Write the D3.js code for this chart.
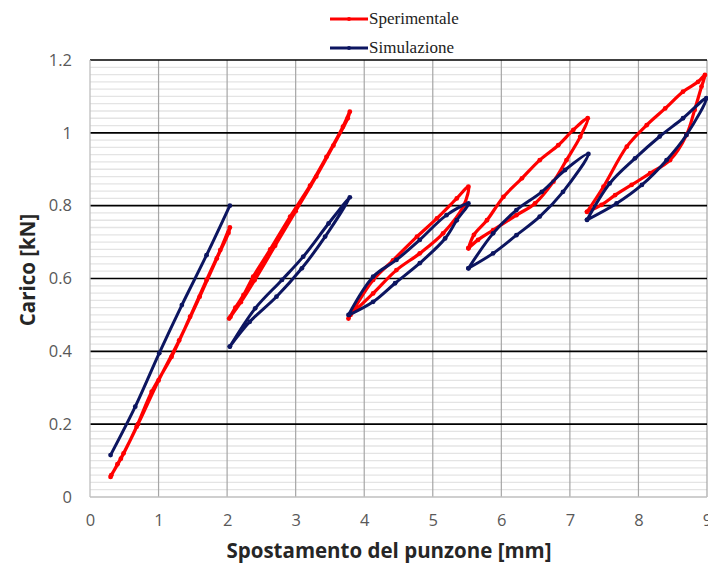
<!DOCTYPE html>
<html>
<head>
<meta charset="utf-8">
<script src="https://cdn.jsdelivr.net/npm/d3@7"></script>
<style>
  html, body { margin: 0; padding: 0; background: #fff; }
  svg { display: block; }
</style>
</head>
<body>
<svg id="chart" width="708" height="565"></svg>
<script>
// ---- Data (null separates loading/unloading cycles) ----
const sperimentaleX = [
  0.30,0.40,0.49,0.68,0.90,1.19,1.46,1.70,1.90,2.04, 2.02,1.85,1.60,1.30,1.00,0.70,0.45,0.31, null,
  2.03,2.12,2.24,2.38,2.63,2.92,3.21,3.45,3.69,3.79, 3.76,3.55,3.30,3.00,2.70,2.40,2.20,2.05, null,
  3.77,4.13,4.42,4.77,5.06,5.35,5.52, 5.45,5.15,4.81,4.47,4.13,3.80, null,
  5.52,5.60,5.79,6.03,6.30,6.56,6.83,7.05,7.26, 7.15,6.95,6.76,6.49,6.22,5.88,5.66,5.52, null,
  7.25,7.49,7.83,8.12,8.39,8.65,8.87,8.97, 8.92,8.82,8.70,8.46,8.17,7.90,7.66,7.46,7.25
];
const sperimentaleY = [
  0.055,0.090,0.120,0.193,0.289,0.385,0.495,0.596,0.678,0.740, 0.725,0.655,0.550,0.430,0.320,0.200,0.105,0.060, null,
  0.490,0.520,0.555,0.605,0.680,0.770,0.855,0.934,1.017,1.058, 1.040,0.965,0.880,0.785,0.690,0.595,0.535,0.495, null,
  0.490,0.596,0.650,0.715,0.765,0.820,0.852, 0.800,0.724,0.669,0.623,0.559,0.500, null,
  0.683,0.720,0.760,0.824,0.875,0.925,0.966,1.008,1.040, 0.989,0.925,0.866,0.806,0.774,0.733,0.706,0.683, null,
  0.783,0.852,0.962,1.021,1.067,1.113,1.140,1.159, 1.127,1.063,0.994,0.925,0.889,0.857,0.829,0.802,0.783
];
const simulazioneX = [
  0.30,0.66,1.01,1.34,1.70,2.04, null,
  2.04,2.33,2.72,3.09,3.43,3.79, 3.48,3.11,2.80,2.41,2.04, null,
  3.77,4.13,4.47,4.81,5.20,5.52, 5.35,5.18,4.81,4.45,4.13,3.78, null,
  5.52,5.88,6.22,6.59,6.93,7.27, 6.90,6.56,6.22,5.88,5.52, null,
  7.25,7.58,7.95,8.31,8.65,8.99, 8.70,8.41,8.05,7.68,7.25
];
const simulazioneY = [
  0.115,0.248,0.395,0.527,0.664,0.800, null,
  0.413,0.481,0.550,0.628,0.715,0.823, 0.751,0.660,0.596,0.518,0.413, null,
  0.500,0.605,0.651,0.706,0.774,0.806, 0.760,0.710,0.642,0.587,0.536,0.500, null,
  0.628,0.724,0.788,0.838,0.898,0.942, 0.838,0.770,0.719,0.669,0.628, null,
  0.761,0.861,0.930,0.990,1.040,1.095, 0.994,0.925,0.857,0.806,0.761
];
const xTicks = [0,1,2,3,4,5,6,7,8,9];
const yTicks = [0,0.2,0.4,0.6,0.8,1,1.2];
const seriesNames = ["Sperimentale", "Simulazione"];
const seriesColors = ["#ff0000", "#0c1560"];

// ---- Layout ----
const svg = d3.select("#chart");
const pLeft = 90, pRight = 707, pTop = 60, pBottom = 497;
const x = d3.scaleLinear().domain([0, 9]).range([pLeft, pRight]);
const y = d3.scaleLinear().domain([0, 1.2]).range([pBottom, pTop]);

// minor horizontal gridlines
const minor = d3.range(0, 1.2001, 0.02).filter(v => Math.abs(Math.round(v / 0.2) * 0.2 - v) > 1e-6);
svg.append("g").selectAll("line").data(minor).join("line")
  .attr("x1", pLeft).attr("x2", pRight)
  .attr("y1", d => y(d)).attr("y2", d => y(d))
  .attr("stroke", "#e4e4e4").attr("stroke-width", 1.3);

// vertical gridlines
svg.append("g").selectAll("line").data(xTicks.filter(d => d > 0)).join("line")
  .attr("x1", d => x(d)).attr("x2", d => x(d))
  .attr("y1", pTop).attr("y2", pBottom)
  .attr("stroke", "#a6a6a6").attr("stroke-width", 1.2);

// major horizontal gridlines
svg.append("g").selectAll("line").data(yTicks.filter(d => d > 0)).join("line")
  .attr("x1", pLeft).attr("x2", pRight)
  .attr("y1", d => y(d)).attr("y2", d => y(d))
  .attr("stroke", "#000").attr("stroke-width", 1.6);

// axes lines (gray)
svg.append("line").attr("x1", pLeft).attr("x2", pRight).attr("y1", pBottom).attr("y2", pBottom)
  .attr("stroke", "#bfbfbf").attr("stroke-width", 1.3);
svg.append("line").attr("x1", pLeft).attr("x2", pLeft).attr("y1", pTop).attr("y2", pBottom)
  .attr("stroke", "#bfbfbf").attr("stroke-width", 1.3);

// tick labels via axes
const xAxis = svg.append("g").attr("transform", `translate(0,${pBottom})`)
  .call(d3.axisBottom(x).tickValues(xTicks).tickSize(0).tickPadding(17).tickFormat(d3.format("d")));
const yAxis = svg.append("g").attr("transform", `translate(${pLeft},0)`)
  .call(d3.axisLeft(y).tickValues(yTicks).tickSize(0).tickPadding(18).tickFormat(d => d === 0 || d === 1 ? String(d) : d3.format(".1f")(d)));
[xAxis, yAxis].forEach(a => {
  a.select(".domain").remove();
  a.selectAll("text").attr("font-family", "'Open Sans', sans-serif").attr("font-size", 16.5).attr("fill", "#595959");
});

// series
const series = [
  {name: seriesNames[0], xs: sperimentaleX, ys: sperimentaleY, color: seriesColors[0], w: 3.2},
  {name: seriesNames[1], xs: simulazioneX, ys: simulazioneY, color: seriesColors[1], w: 3}
];
const line = d3.line()
  .defined(d => d[0] !== null && d[1] !== null)
  .x(d => x(d[0])).y(d => y(d[1]))
  .curve(d3.curveCatmullRom.alpha(0.5));

const plot = svg.append("g");
series.forEach(s => {
  const pts = s.xs.map((v, i) => [v, s.ys[i]]);
  plot.append("path").datum(pts)
    .attr("d", line)
    .attr("fill", "none").attr("stroke", s.color)
    .attr("stroke-width", s.w).attr("stroke-linejoin", "round").attr("stroke-linecap", "round");
  plot.append("g").selectAll("circle").data(pts.filter(p => p[0] !== null)).join("circle")
    .attr("cx", d => x(d[0])).attr("cy", d => y(d[1])).attr("r", 2.4)
    .attr("fill", s.color);
});

// axis titles
svg.append("text").attr("x", 389).attr("y", 558).attr("text-anchor", "middle")
  .attr("font-family", "'Open Sans', sans-serif").attr("font-weight", "bold").attr("font-size", 20.5)
  .attr("fill", "#262626").text("Spostamento del punzone [mm]");
svg.append("text").attr("transform", "translate(35,270) rotate(-90)").attr("text-anchor", "middle")
  .attr("font-family", "'Open Sans', sans-serif").attr("font-weight", "bold").attr("font-size", 20.5)
  .attr("fill", "#262626").text("Carico [kN]");

// legend
const legend = svg.append("g");
seriesNames.forEach((n, i) => {
  const ly = 19 + i * 29;
  legend.append("line").attr("x1", 330).attr("x2", 368).attr("y1", ly).attr("y2", ly)
    .attr("stroke", seriesColors[i]).attr("stroke-width", 3.2);
  legend.append("circle").attr("cx", 349).attr("cy", ly).attr("r", 2).attr("fill", seriesColors[i]);
  legend.append("text").attr("x", 369).attr("y", ly + 5)
    .attr("font-family", "'Liberation Serif', 'Times New Roman', serif").attr("font-size", 17)
    .attr("fill", "#222").text(n);
});
</script>
</body>
</html>
